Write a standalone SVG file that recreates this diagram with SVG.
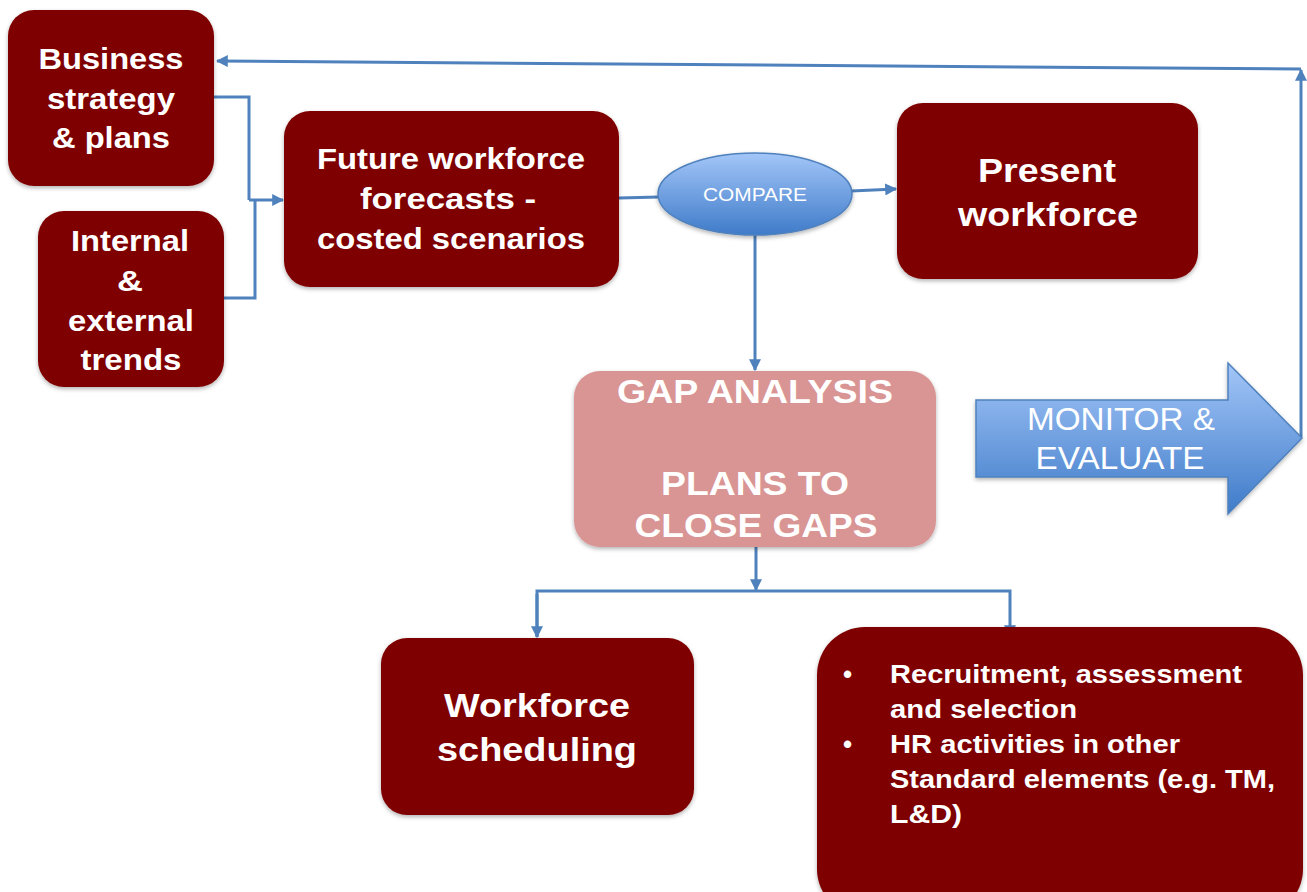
<svg xmlns="http://www.w3.org/2000/svg" width="1307" height="892" viewBox="0 0 1307 892">
  <style>
    .box { fill: #7f0000; }
    .gap { fill: #d99594; }
    .t { font-family: "Liberation Sans", Arial, sans-serif; fill: #ffffff; text-anchor: middle; }
    .b { font-weight: bold; }
    .lst { font-family: "Liberation Sans", Arial, sans-serif; fill: #ffffff; font-weight: bold; font-size: 26px; }
    .ln { fill: none; stroke: #4f81bd; stroke-width: 3; }
  </style>
  <defs>
    <linearGradient id="blueGrad" x1="0" y1="0" x2="0" y2="1">
      <stop offset="0" stop-color="#a3c6f8"/>
      <stop offset="1" stop-color="#3f7bc9"/>
    </linearGradient>
    <filter id="shadow" x="-10%" y="-10%" width="120%" height="130%">
      <feDropShadow dx="0" dy="2" stdDeviation="2" flood-color="#000" flood-opacity="0.3"/>
    </filter>
    <marker id="arr" viewBox="0 0 10 10" refX="9" refY="5" markerWidth="4" markerHeight="4" orient="auto">
      <path d="M0,0 L10,5 L0,10 z" fill="#4f81bd"/>
    </marker>
  </defs>

  <!-- connectors -->
  <g id="connectors">
    <polyline class="ln" points="214,97 249,97 249,200"/>
    <polyline class="ln" points="224,298 255,298 255,200"/>
    <line class="ln" x1="249" y1="200" x2="283" y2="200" marker-end="url(#arr)"/>
    <line class="ln" x1="619" y1="198" x2="659" y2="197"/>
    <line class="ln" x1="851" y1="191" x2="896" y2="189" marker-end="url(#arr)"/>
    <line class="ln" x1="755" y1="235" x2="755" y2="370" marker-end="url(#arr)"/>
    <line class="ln" x1="756" y1="547" x2="756" y2="590" marker-end="url(#arr)"/>
    <polyline class="ln" points="537,637 537,591 1010,591 1010,636" marker-end="url(#arr)"/>
    <line class="ln" x1="537" y1="594" x2="537" y2="637" marker-end="url(#arr)"/>
    <line class="ln" x1="1301" y1="437" x2="1301" y2="70" stroke-width="2.5" marker-end="url(#arr)"/>
    <line class="ln" x1="1301" y1="69" x2="217" y2="61" marker-end="url(#arr)"/>
  </g>

  <!-- Business strategy & plans -->
  <g id="business">
    <rect class="box" x="8" y="10" width="206" height="176" rx="26" filter="url(#shadow)"/>
    <text class="t b" font-size="29" x="111" y="69" textLength="145" lengthAdjust="spacingAndGlyphs">Business</text>
    <text class="t b" font-size="29" x="111" y="109" textLength="128" lengthAdjust="spacingAndGlyphs">strategy</text>
    <text class="t b" font-size="29" x="111" y="148" textLength="118" lengthAdjust="spacingAndGlyphs">&amp; plans</text>
  </g>

  <!-- Internal & external trends -->
  <g id="trends">
    <rect class="box" x="38" y="211" width="186" height="176" rx="26" filter="url(#shadow)"/>
    <text class="t b" font-size="29" x="130" y="251" textLength="118" lengthAdjust="spacingAndGlyphs">Internal</text>
    <text class="t b" font-size="29" x="130" y="291" textLength="26" lengthAdjust="spacingAndGlyphs">&amp;</text>
    <text class="t b" font-size="29" x="131" y="331" textLength="126" lengthAdjust="spacingAndGlyphs">external</text>
    <text class="t b" font-size="29" x="131" y="370" textLength="101" lengthAdjust="spacingAndGlyphs">trends</text>
  </g>

  <!-- Future workforce forecasts -->
  <g id="forecasts">
    <rect class="box" x="284" y="111" width="335" height="176" rx="26" filter="url(#shadow)"/>
    <text class="t b" font-size="29" x="451" y="169" textLength="268" lengthAdjust="spacingAndGlyphs">Future workforce</text>
    <text class="t b" font-size="29" x="448" y="209" textLength="176" lengthAdjust="spacingAndGlyphs">forecasts -</text>
    <text class="t b" font-size="29" x="451" y="249" textLength="268" lengthAdjust="spacingAndGlyphs">costed scenarios</text>
  </g>

  <!-- Compare -->
  <g id="compare">
    <ellipse cx="755" cy="194" rx="97" ry="41" fill="url(#blueGrad)" stroke="#4f81bd" stroke-width="1.5" filter="url(#shadow)"/>
    <text class="t" font-size="19" x="755" y="201" textLength="104" lengthAdjust="spacingAndGlyphs">COMPARE</text>
  </g>

  <!-- Present workforce -->
  <g id="present">
    <rect class="box" x="897" y="103" width="301" height="176" rx="26" filter="url(#shadow)"/>
    <text class="t b" font-size="34" x="1047" y="182" textLength="138" lengthAdjust="spacingAndGlyphs">Present</text>
    <text class="t b" font-size="34" x="1048" y="226" textLength="180" lengthAdjust="spacingAndGlyphs">workforce</text>
  </g>

  <!-- Gap analysis -->
  <g id="gap">
    <rect class="gap" x="574" y="371" width="362" height="176" rx="26" filter="url(#shadow)"/>
    <text class="t b" font-size="34" x="755" y="403" textLength="276" lengthAdjust="spacingAndGlyphs">GAP ANALYSIS</text>
    <text class="t b" font-size="34" x="755" y="495" textLength="188" lengthAdjust="spacingAndGlyphs">PLANS TO</text>
    <text class="t b" font-size="34" x="756" y="537" textLength="243" lengthAdjust="spacingAndGlyphs">CLOSE GAPS</text>
  </g>

  <!-- Monitor & evaluate -->
  <g id="monitor">
    <path d="M976,400 L1228,400 L1228,363 L1302,438 L1228,514 L1228,477 L976,477 z" fill="url(#blueGrad)" stroke="#4f81bd" stroke-width="1.5" filter="url(#shadow)"/>
    <text class="t" font-size="31" x="1121" y="430" textLength="188" lengthAdjust="spacingAndGlyphs">MONITOR &amp;</text>
    <text class="t" font-size="31" x="1120" y="469" textLength="169" lengthAdjust="spacingAndGlyphs">EVALUATE</text>
  </g>

  <!-- Workforce scheduling -->
  <g id="scheduling">
    <rect class="box" x="381" y="638" width="313" height="177" rx="26" filter="url(#shadow)"/>
    <text class="t b" font-size="34" x="537" y="717" textLength="186" lengthAdjust="spacingAndGlyphs">Workforce</text>
    <text class="t b" font-size="34" x="537" y="761" textLength="200" lengthAdjust="spacingAndGlyphs">scheduling</text>
  </g>

  <!-- HR activities -->
  <g id="activities">
    <rect class="box" x="817" y="627" width="486" height="290" rx="48" filter="url(#shadow)"/>
    <text class="lst" x="843" y="683">•</text>
    <text class="lst" x="890" y="683" textLength="352" lengthAdjust="spacingAndGlyphs">Recruitment, assessment</text>
    <text class="lst" x="890" y="718" textLength="187" lengthAdjust="spacingAndGlyphs">and selection</text>
    <text class="lst" x="843" y="753">•</text>
    <text class="lst" x="890" y="753" textLength="290" lengthAdjust="spacingAndGlyphs">HR activities in other</text>
    <text class="lst" x="890" y="788" textLength="385" lengthAdjust="spacingAndGlyphs">Standard elements (e.g. TM,</text>
    <text class="lst" x="890" y="823" textLength="72" lengthAdjust="spacingAndGlyphs">L&amp;D)</text>
  </g>
</svg>
